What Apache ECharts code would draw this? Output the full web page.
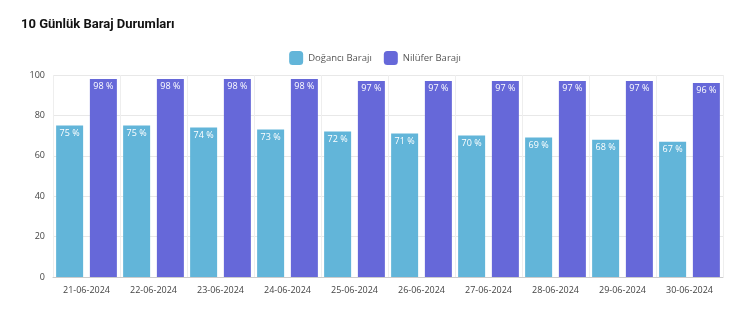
<!DOCTYPE html>
<html><head><meta charset="utf-8">
<script src="https://cdn.jsdelivr.net/npm/echarts@6/dist/echarts.min.js"></script>
<style>html,body{margin:0;padding:0;background:#fff}#c{width:750px;height:323px}</style>
</head><body><div id="c"></div>
<script>
const categories = ['21-06-2024','22-06-2024','23-06-2024','24-06-2024','25-06-2024','26-06-2024','27-06-2024','28-06-2024','29-06-2024','30-06-2024'];
const doganci = [75,75,74,73,72,71,70,69,68,67];
const nilufer = [98,98,98,98,97,97,97,97,97,96];
const seriesNames = ['Doğancı Barajı','Nilüfer Barajı'];
const chart = echarts.init(document.getElementById('c'));
const lbl = {show:true, position:'insideTop', distance:3, color:'#fff', fontSize:9, fontFamily:'Open Sans', formatter:p=>p.value+' %'};
chart.setOption({
  animation:false,
  backgroundColor:'#fff',
  title:{text:'10 Günlük Baraj Durumları', left:16, top:13, textStyle:{fontFamily:'Roboto', fontWeight:'bold', fontSize:13, color:'#111'}},
  legend:{top:46, left:'center', itemWidth:14, itemHeight:14, itemGap:12, icon:'roundRect', textStyle:{fontFamily:'Open Sans', fontSize:9.5, color:'#555'}, data:seriesNames},
  grid:{left:53, right:27, top:75, bottom:46},
  xAxis:{type:'category', data:categories, axisTick:{show:false}, axisLine:{lineStyle:{color:'#ccc'}}, axisLabel:{interval:0, color:'#444', fontFamily:'Open Sans', fontSize:9, margin:9}, splitLine:{show:true, interval:0, lineStyle:{color:'#eee'}}},
  yAxis:{type:'value', min:0, max:100, interval:20, axisLabel:{color:'#444', fontFamily:'Open Sans', fontSize:9, margin:8}, splitLine:{lineStyle:{color:'#e8e8e8'}}, axisLine:{show:false}, axisTick:{show:false}},
  series:[
    {name:seriesNames[0], type:'bar', data:doganci, barWidth:27, barGap:'25%', itemStyle:{color:'#62b5d9'}, label:lbl},
    {name:seriesNames[1], type:'bar', data:nilufer, barWidth:27, itemStyle:{color:'#6668d9'}, label:lbl}
  ]
});
</script></body></html>
